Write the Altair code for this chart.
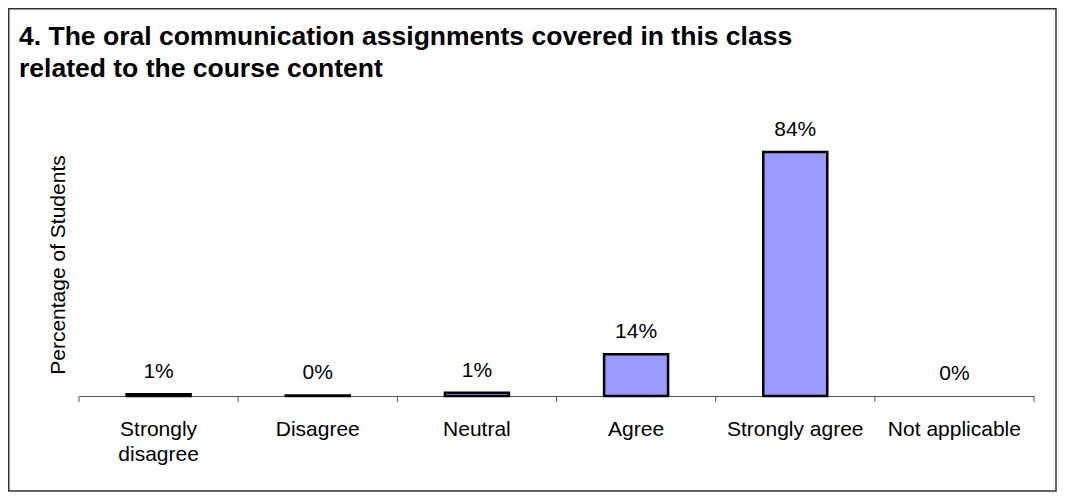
import altair as alt
import pandas as pd

categories = ["Strongly disagree", "Disagree", "Neutral", "Agree", "Strongly agree", "Not applicable"]
percentages = [0.006, 0.002, 0.011, 0.143, 0.838, 0.0]
title_lines = ["4. The oral communication assignments covered in this class",
               "related to the course content"]
y_title = "Percentage of Students"

df = pd.DataFrame({"category": categories, "pct": percentages})

W, H = 955, 262
FONT = "Liberation Sans"
GREY = "#555555"

x_scale = alt.Scale(domain=categories, paddingInner=0, paddingOuter=0)
x_axis = alt.Axis(
    title=None, labelAngle=0, ticks=False, domain=True, domainColor=GREY, domainWidth=1,
    labelFont=FONT, labelFontSize=21, labelColor="black", labelPadding=22,
    labelLineHeight=25, labelLimit=0,
    labelExpr="length(datum.label) > 15 ? split(datum.label, ' ') : datum.label",
)
y_enc = alt.Y("pct:Q", scale=alt.Scale(domain=[0, 0.9], nice=False, zero=True), axis=None)

base = alt.Chart(df)

bars = base.transform_filter("datum.pct > 0").mark_bar(
    size=64, fill="#9999FF", stroke="black", strokeWidth=2.5
).encode(x=alt.X("category:N", scale=x_scale, axis=x_axis), y=y_enc)

labels = base.mark_text(
    dy=-16, baseline="alphabetic", font=FONT, fontSize=21, color="black"
).encode(
    x=alt.X("category:N", scale=x_scale, axis=x_axis),
    y=y_enc,
    text=alt.Text("pct:Q", format=".0%"),
)

ticks = base.mark_rule(color=GREY, strokeWidth=1).encode(
    x=alt.X("category:N", scale=x_scale, axis=x_axis, bandPosition=0),
    y=alt.value(H), y2=alt.value(H + 6),
)

one = pd.DataFrame({"k": [0]})
end_tick = alt.Chart(one).mark_rule(color=GREY, strokeWidth=1).encode(
    x=alt.value(W), y=alt.value(H), y2=alt.value(H + 6)
)

title_df = pd.DataFrame({"t": ["\n".join(title_lines)]})
title_text = alt.Chart(title_df).mark_text(
    lineBreak="\n", align="left", baseline="top", font=FONT, fontSize=26.5,
    fontWeight="bold", lineHeight=32, color="black"
).encode(x=alt.value(-60), y=alt.value(-110), text="t:N")

ytitle_df = pd.DataFrame({"t": [y_title]})
ytitle = alt.Chart(ytitle_df).mark_text(
    angle=270, align="center", baseline="alphabetic", font=FONT, fontSize=21, color="black"
).encode(x=alt.value(-14), y=alt.value(H / 2), text="t:N")

border = alt.Chart(one).mark_rect(
    fill="transparent", stroke="#333333", strokeWidth=1.5
).encode(x=alt.value(-70.25), x2=alt.value(977), y=alt.value(-125.25), y2=alt.value(357))

chart = alt.layer(border, bars, labels, ticks, end_tick, title_text, ytitle).properties(
    width=W, height=H, padding=0, background="white"
).configure_view(stroke=None)

chart.save("out.html", embed_options={"renderer": "svg", "actions": False})
